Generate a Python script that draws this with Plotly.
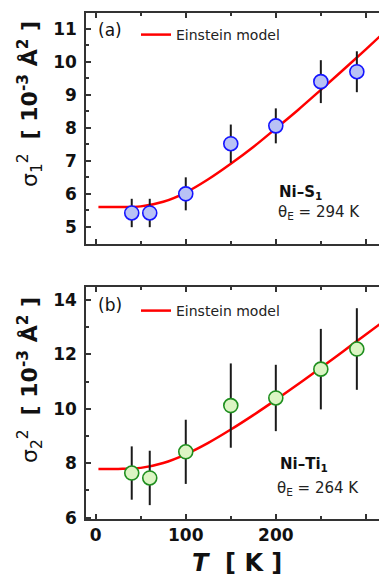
import plotly.graph_objects as go

# ---------------- data ----------------
T_exp = [40, 60, 100, 150, 200, 250, 290]
sigma1 = [5.42, 5.42, 6.00, 7.52, 8.06, 9.40, 9.70]
err1 = [0.43, 0.43, 0.50, 0.58, 0.53, 0.65, 0.62]
sigma2 = [7.64, 7.46, 8.42, 10.12, 10.40, 11.46, 12.20]
err2 = [0.98, 1.00, 1.18, 1.55, 1.22, 1.48, 1.50]

T_model = [3, 25, 50, 75, 100, 125, 150, 175, 200, 225, 250, 275, 300, 325]
model1 = [5.60, 5.60, 5.62, 5.76, 6.04, 6.44, 6.91, 7.42, 7.98, 8.55, 9.15, 9.76, 10.38, 11.01]
model2 = [7.79, 7.79, 7.83, 8.01, 8.33, 8.75, 9.24, 9.77, 10.33, 10.91, 11.51, 12.12, 12.73, 13.35]

x_ticks = [0, 100, 200, 300]
y1_ticks = [5, 6, 7, 8, 9, 10, 11]
y2_ticks = [6, 8, 10, 12, 14]

# ---------------- layout helpers ----------------
W, H = 379, 583
ML, MR, MT, MB = 86, 0, 0, 64
PW, PH = W - ML - MR, H - MT - MB


def px(x):
    return (x - ML) / PW


def py(y):
    return (H - MB - y) / PH


FONT = "DejaVu Sans"
AXC = "#333333"

fig = go.Figure()

# panel (a)
fig.add_trace(go.Scatter(x=T_model, y=model1, mode="lines", line=dict(color="#ff0000", width=2.5, shape="spline"),
                         name="Einstein model", xaxis="x", yaxis="y", legend="legend", showlegend=True))
fig.add_trace(go.Scatter(x=T_exp, y=sigma1, mode="markers",
                         error_y=dict(type="data", array=err1, color="#1a1a1a", thickness=2, width=0),
                         marker=dict(size=14, color="#b9c2f5", line=dict(color="#1414ff", width=1.6)),
                         xaxis="x", yaxis="y", showlegend=False))
# panel (b)
fig.add_trace(go.Scatter(x=T_model, y=model2, mode="lines", line=dict(color="#ff0000", width=2.5, shape="spline"),
                         name="Einstein model", xaxis="x2", yaxis="y2", legend="legend2", showlegend=True))
fig.add_trace(go.Scatter(x=T_exp, y=sigma2, mode="markers",
                         error_y=dict(type="data", array=err2, color="#1a1a1a", thickness=2, width=0),
                         marker=dict(size=14, color="#dcf5c4", line=dict(color="#1f8f1f", width=1.6)),
                         xaxis="x2", yaxis="y2", showlegend=False))

xr = [-10.8, 314.6]
common_x = dict(range=xr, showline=True, linecolor=AXC, linewidth=1.5, mirror="ticks",
                ticks="inside", ticklen=5, tickwidth=1.5, tickcolor=AXC,
                tickvals=x_ticks, showgrid=False, zeroline=False,
                minor=dict(ticks="inside", ticklen=3, tickwidth=1.5, tickcolor=AXC, dtick=50, tick0=0, showgrid=False),
                tickfont=dict(family=FONT, size=17, color="#111111"))
common_y = dict(showline=True, linecolor=AXC, linewidth=1.5, mirror=False,
                ticks="inside", ticklen=5, tickwidth=1.5, tickcolor=AXC, showgrid=False, zeroline=False,
                tickfont=dict(family=FONT, size=17, color="#111111"), ticklabelstandoff=4)

dom_a = [py(244), py(13)]
dom_b = [py(519), py(287)]

fig.update_layout(
    width=W, height=H, margin=dict(l=ML, r=MR, t=MT, b=MB),
    paper_bgcolor="white", plot_bgcolor="white",
    xaxis=dict(common_x, domain=[0, 1], anchor="y", showticklabels=False),
    yaxis=dict(common_y, domain=dom_a, anchor="x", range=[4.48, 11.48], tickvals=y1_ticks,
               ticktext=[f"<b>{v}</b>" for v in y1_ticks],
               minor=dict(ticks="inside", ticklen=3, tickwidth=1.5, tickcolor=AXC, dtick=0.5, tick0=0, showgrid=False)),
    xaxis2=dict(common_x, domain=[0, 1], anchor="y2", ticktext=[f"<b>{v}</b>" for v in x_ticks]),
    yaxis2=dict(common_y, domain=dom_b, anchor="x2", range=[5.95, 14.48], tickvals=y2_ticks,
                ticktext=[f"<b>{v}</b>" for v in y2_ticks],
                minor=dict(ticks="inside", ticklen=3, tickwidth=1.5, tickcolor=AXC, dtick=1, tick0=0, showgrid=False)),
    legend=dict(x=px(136), y=py(35), xanchor="left", yanchor="middle", bgcolor="rgba(0,0,0,0)",
                font=dict(family=FONT, size=14, color="#222222"), borderwidth=0),
    legend2=dict(x=px(136), y=py(311), xanchor="left", yanchor="middle", bgcolor="rgba(0,0,0,0)",
                 font=dict(family=FONT, size=14, color="#222222"), borderwidth=0),
)

ann = []


def add(text, x, y, size, xanchor="left", angle=0, color="#111111"):
    ann.append(dict(text=text, x=px(x), y=py(y), xref="paper", yref="paper", showarrow=False,
                    xanchor=xanchor, yanchor="middle", textangle=angle,
                    font=dict(family=FONT, size=size, color=color)))


add("(a)", 96, 30, 17)
add("(b)", 96, 305, 17)
add("<b>Ni–S<sub>1</sub></b>", 277, 192, 15)
add("θ<sub>E</sub> = 294 K", 276, 213, 15, color="#222222")
add("<b>Ni–Ti<sub>1</sub></b>", 278, 465, 15)
add("θ<sub>E</sub> = 264 K", 275, 488, 15, color="#222222")
add("σ<sub>1</sub><sup>2</sup>  <b>[ 10<sup>-3</sup> Å<sup>2</sup> ]</b>", 30, 104, 22, xanchor="center", angle=-90)
add("σ<sub>2</sub><sup>2</sup>  <b>[ 10<sup>-3</sup> Å<sup>2</sup> ]</b>", 30, 380, 22, xanchor="center", angle=-90)
add("<b><i>T</i>  [ K ]</b>", 237, 563, 24, xanchor="center")

fig.update_layout(annotations=ann)
fig.write_html("out.html")
